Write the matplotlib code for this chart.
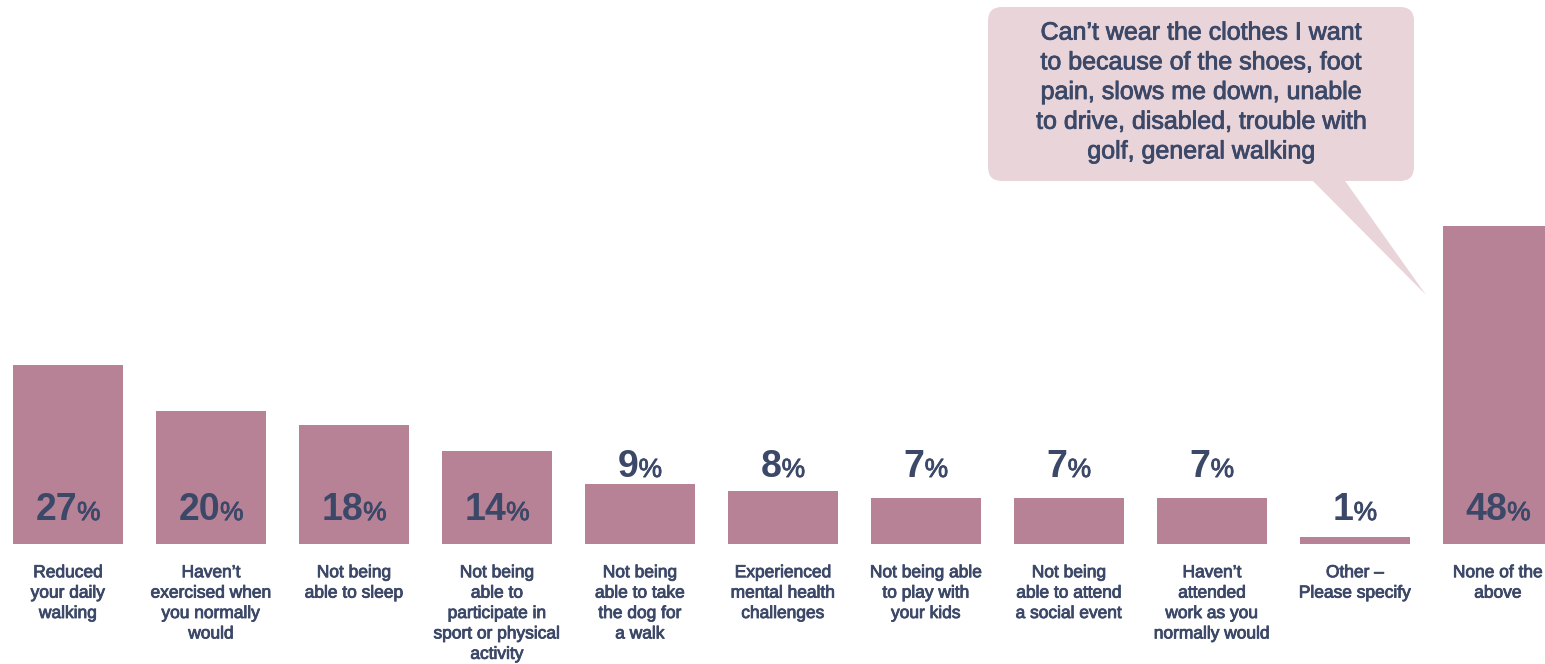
import matplotlib
matplotlib.use('Agg')
import matplotlib.pyplot as plt
import matplotlib.patheffects as pe
from matplotlib.patches import FancyBboxPatch, Polygon
from matplotlib.transforms import offset_copy

categories = ['Reduced\nyour daily\nwalking',
              'Haven\u2019t\nexercised when\nyou normally\nwould',
              'Not being\nable to sleep',
              'Not being\nable to\nparticipate in\nsport or physical\nactivity',
              'Not being\nable to take\nthe dog for\na walk',
              'Experienced\nmental health\nchallenges',
              'Not being able\nto play with\nyour kids',
              'Not being\nable to attend\na social event',
              'Haven\u2019t\nattended\nwork as you\nnormally would',
              'Other \u2013\nPlease specify',
              'None of the\nabove']
values = [27, 20, 18, 14, 9, 8, 7, 7, 7, 1, 48]
callout_text = ('Can\u2019t wear the clothes I want\nto because of the shoes, foot\n'
                'pain, slows me down, unable\nto drive, disabled, trouble with\n'
                'golf, general walking')

BAR = '#b88296'
INK = '#3c4868'
BUBBLE = '#e8d4d9'
plt.rcParams['font.family'] = ['Liberation Sans', 'DejaVu Sans']
# a thin stroke gives the regular face a medium weight
medium = [pe.withStroke(linewidth=0.6, foreground=INK)]

W, H = 1545, 664
fig = plt.figure(figsize=(W / 100, H / 100), dpi=100)
ax = fig.add_axes([0, 0, 1, 1])
ax.set_xlim(-0.4755, 10.329)
ax.set_ylim(-18.1, 82.05)
ax.axis('off')

xs = list(range(len(values)))
ax.bar(xs, values, width=0.769, color=BAR, linewidth=0)

fig.canvas.draw()
r = fig.canvas.get_renderer()
for x, v, lab in zip(xs, values, categories):
    # big bold number + smaller percent sign, centred together
    y = 10.1 if 3 <= v < 12 else 3.6
    num = ax.text(x, y, str(v), fontsize=27, fontweight='bold', color=INK,
                  ha='right', va='baseline')
    pct = ax.text(x, y, '%', fontsize=19, color=INK, ha='left', va='baseline',
                  path_effects=medium)
    wn = num.get_window_extent(r).width
    wp = pct.get_window_extent(r).width
    gap = 0
    shift = (wn - wp - gap) / 2.0
    num.set_transform(offset_copy(ax.transData, fig, x=shift, y=0, units='dots'))
    pct.set_transform(offset_copy(ax.transData, fig, x=shift + gap, y=0, units='dots'))
    ax.text(x, -3.2, lab, fontsize=12.5, color=INK, ha='center', va='top',
            linespacing=1.45, path_effects=medium)

def px(x, y):
    return (x / W, 1 - y / H)

# speech bubble over the last bar
x0, y0 = px(988, 181)
x1, y1 = px(1414, 7)
box = FancyBboxPatch((x0, y0), x1 - x0, y1 - y0,
                     boxstyle='round,pad=0,rounding_size=0.009',
                     transform=fig.transFigure, facecolor=BUBBLE,
                     edgecolor='none', mutation_aspect=W / H)
fig.patches.append(box)
tail = Polygon([px(1310, 178), px(1343, 178), px(1426, 295)], closed=True,
               transform=fig.transFigure, facecolor=BUBBLE, edgecolor='none')
fig.patches.append(tail)
fig.text(*px(1201, 92), callout_text, fontsize=18, color=INK,
         ha='center', va='center', linespacing=1.3, path_effects=medium)

fig.savefig('out.png', dpi=100)
